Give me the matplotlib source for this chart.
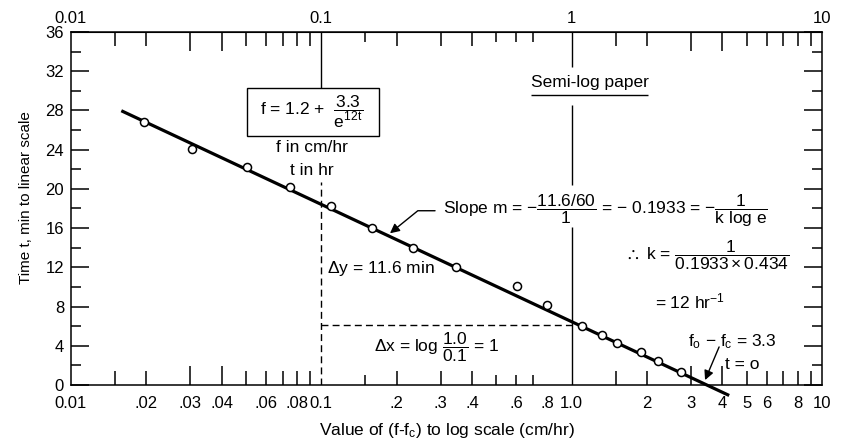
import matplotlib
matplotlib.use("Agg")
import matplotlib.pyplot as plt
from matplotlib.patches import Rectangle
from matplotlib.ticker import MultipleLocator, NullLocator

plt.rcParams['font.family'] = ['Liberation Sans', 'DejaVu Sans']
plt.rcParams['mathtext.fontset'] = 'custom'
plt.rcParams['mathtext.rm'] = 'Liberation Sans'
plt.rcParams['mathtext.it'] = 'Liberation Sans'
plt.rcParams['mathtext.sf'] = 'Liberation Sans'
plt.rcParams['mathtext.bf'] = 'Liberation Sans:bold'
plt.rcParams['mathtext.fallback'] = 'stixsans'

# infiltration points: value of (f - fc) in cm/hr against time in min
f_minus_fc = [0.0196, 0.0303, 0.0504, 0.075, 0.109, 0.159, 0.233, 0.344,
              0.604, 0.798, 1.097, 1.318, 1.523, 1.893, 2.207, 2.735]
time_min = [26.8, 24.1, 22.2, 20.2, 18.3, 16.0, 14.0, 12.0,
            10.1, 8.2, 6.05, 5.1, 4.3, 3.4, 2.4, 1.35]

# fitted straight line (end points as drawn)
fit_x = [0.0161, 4.2]
fit_y = [27.9, -1.0]

# tick labels
bottom_ticks = [0.01, 0.02, 0.03, 0.04, 0.06, 0.08, 0.1, 0.2, 0.3, 0.4, 0.6, 0.8,
                1.0, 2, 3, 4, 5, 6, 8, 10]
bottom_labels = ['0.01', '.02', '.03', '.04', '.06', '.08', '0.1', '.2', '.3', '.4',
                 '.6', '.8', '1.0', '2', '3', '4', '5', '6', '8', '10']
top_ticks = [0.01, 0.1, 1, 10]
top_labels = ['0.01', '0.1', '1', '10']

# printed tick marks of the log paper, grouped by length
tall_marks = [0.03, 0.04, 3, 4]
mid_marks = [0.015, 0.02, 0.05, 0.06, 0.07, 0.08, 0.09, 0.2, 0.3, 0.4,
             1.5, 2, 5, 6, 7, 8, 9]
short_marks = [0.15, 0.5, 0.6, 0.7]

FS = 12.5

fig = plt.figure(figsize=(8.42, 4.46), dpi=100)
ax = fig.add_axes([0.0843, 0.1368, 0.892, 0.7915])
ax.set_xscale('log')
ax.set_xlim(0.01, 10)
ax.set_ylim(0, 36)

for sp in ax.spines.values():
    sp.set_linewidth(1.1)

# y ticks, inside on both sides
ax.set_yticks(range(0, 37, 4))
ax.yaxis.set_minor_locator(MultipleLocator(2))
ax.tick_params(axis='y', which='major', direction='in', length=13, width=1.1,
               right=True, labelsize=12, pad=5)
ax.tick_params(axis='y', which='minor', direction='in', length=7, width=1.1, right=True)

# x labels only, marks drawn separately
ax.set_xticks(bottom_ticks, labels=bottom_labels)
ax.xaxis.set_minor_locator(NullLocator())
ax.tick_params(axis='x', which='major', length=0, labelsize=12, pad=8)

top = ax.secondary_xaxis('top')
top.set_xticks(top_ticks, labels=top_labels)
top.xaxis.set_minor_locator(NullLocator())
top.tick_params(axis='x', which='both', length=0, labelsize=12, pad=4)

xf = ax.get_xaxis_transform()
h_px = ax.bbox.height
for marks, length in ((tall_marks, 19), (mid_marks, 14), (short_marks, 10)):
    frac = length / h_px
    ax.vlines(marks, 0, frac, transform=xf, colors='k', lw=1.1)
    ax.vlines(marks, 1 - frac, 1, transform=xf, colors='k', lw=1.1)

# guide lines
ax.vlines([1.0, 1.0, 1.0], [32.4, 20.4, 0], [36, 28.55, 16.15], colors='k', lw=1)
ax.vlines(0.1, 30.3, 36, colors='k', lw=1)
ax.vlines(0.1, 0, 20.7, colors='k', lw=1, linestyles=(0, (5, 3)))
ax.hlines(6.15, 0.1, 1.0, colors='k', lw=1, linestyles=(0, (5, 3)))
ax.hlines(29.6, 0.689, 2.02, colors='k', lw=1)

# fitted line and points
ax.plot(fit_x, fit_y, color='k', lw=2.3, clip_on=False, zorder=3)
ax.plot(f_minus_fc, time_min, 'o', ms=5.8, mfc='white', mec='k', mew=1.1, zorder=4)

# formula box
ax.add_patch(Rectangle((0.0504, 25.4), 0.170 - 0.0504, 30.3 - 25.4,
                       fill=False, ec='k', lw=1))
ax.text(0.0918, 27.85, r'f = 1.2 + $\ \dfrac{3.3}{e^{12t}}$', ha='center', va='center', fontsize=FS)
ax.text(0.0918, 24.17, 'f in cm/hr', ha='center', va='center', fontsize=FS)
ax.text(0.0918, 21.9, 't in hr', ha='center', va='center', fontsize=FS)

ax.text(1.18, 30.8, 'Semi-log paper', ha='center', va='center', fontsize=FS)

ax.text(0.306, 17.74, r'Slope m = $-\dfrac{11.6/60}{1}$ = $-$ 0.1933 = $-\dfrac{1}{k\ log\ e}$',
        ha='left', va='center', fontsize=FS)
ax.annotate('', xy=(0.188, 15.47), xytext=(0.2846, 17.77),
            arrowprops=dict(arrowstyle='-|>', color='k', lw=1, mutation_scale=14,
                            connectionstyle='angle,angleA=0,angleB=39,rad=0',
                            shrinkA=0, shrinkB=0))

ax.text(1.635, 13.26, r'$\therefore$ k = $\dfrac{1}{0.1933\times0.434}$',
        ha='left', va='center', fontsize=FS)
ax.text(2.15, 8.57, r'= 12 hr$^{-1}$', ha='left', va='center', fontsize=FS)

ax.text(0.105, 11.9, r'$\Delta$y = 11.6 min', ha='left', va='center', fontsize=FS)
ax.text(0.1624, 3.84, r'$\Delta$x = log $\dfrac{1.0}{0.1}$ = 1', ha='left', va='center', fontsize=FS)

ax.text(4.39, 4.42, r'f$_o$ $-$ f$_c$ = 3.3', ha='center', va='center', fontsize=FS)
ax.text(4.80, 2.1, 't = o', ha='center', va='center', fontsize=FS)
ax.annotate('', xy=(3.41, 0.5), xytext=(3.88, 3.88),
            arrowprops=dict(arrowstyle='-|>', color='k', lw=1, mutation_scale=14,
                            shrinkA=0, shrinkB=0))

ax.set_xlabel(r'Value of (f-f$_c$) to log scale (cm/hr)', fontsize=12.5, labelpad=7)
ax.set_ylabel('Time t, min to linear scale', fontsize=11)
ax.yaxis.set_label_coords(-0.0506, 0.53)

fig.savefig('out.png', dpi=100)
